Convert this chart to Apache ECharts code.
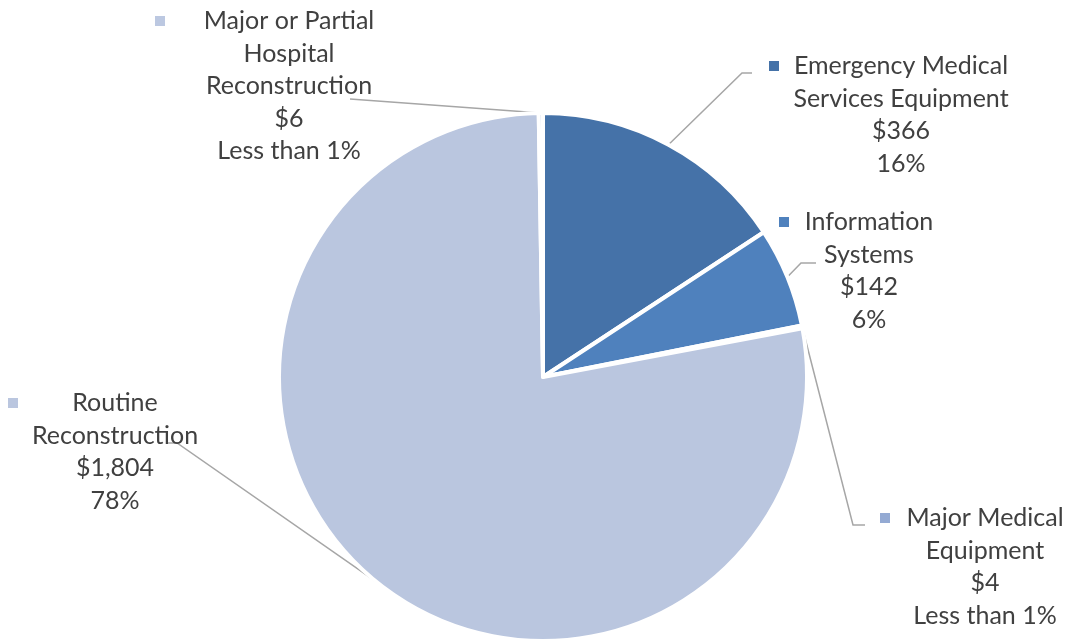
<!DOCTYPE html>
<html>
<head>
<meta charset="utf-8">
<script src="https://cdn.jsdelivr.net/npm/echarts@6/dist/echarts.min.js"></script>
<style>
  html, body { margin: 0; padding: 0; background: #ffffff; }
  #chart { width: 1068px; height: 641px; }
</style>
</head>
<body>
<div id="chart"></div>
<script>
// Spending by category (dollars, thousands)
const categories = [
  'Emergency Medical Services Equipment',
  'Information Systems',
  'Major Medical Equipment',
  'Routine Reconstruction',
  'Major or Partial Hospital Reconstruction'
];
const amounts = [366, 142, 4, 1804, 6];
const sliceColors = ['#4572A8', '#4F81BD', '#94AAD3', '#BAC6DF', '#BCC8E1'];

// How each category name wraps inside its label
const labelWrap = [
  ['Emergency Medical', 'Services Equipment'],
  ['Information', 'Systems'],
  ['Major Medical', 'Equipment'],
  ['Routine', 'Reconstruction'],
  ['Major or Partial', 'Hospital', 'Reconstruction']
];

// Label placement: key square left edge, centre of first text line,
// centre of the text column, and the leader line's bend/end points
const labelPlace = [
  { x: 769, y: 66,  textCenter: 901, line: [[742, 73], [752, 73]] },
  { x: 779, y: 222, textCenter: 869, line: [[801, 263], [816, 263]] },
  { x: 880, y: 518, textCenter: 985, line: [[853, 525], [865, 525]] },
  { x: 8,   y: 403, textCenter: 115, line: [[177, 443], [167, 443]] },
  { x: 155, y: 21,  textCenter: 289, line: [[350, 99], [350, 99]] }
];

const LINE_H = 32.5;
const KEY = 10;
const GAP = 14;
const TEXT_COLOR = '#404040';
const FONT = 'Lato';
const FONT_SIZE = 25;

const rich = {
  g: { width: GAP, align: 'left', lineHeight: LINE_H },
  p: { width: KEY + GAP, align: 'left', lineHeight: LINE_H }
};
categories.forEach((c, i) => {
  rich['s' + i] = { width: KEY, height: KEY, backgroundColor: sliceColors[i], align: 'left', lineHeight: LINE_H };
  rich['c' + i] = {
    width: 2 * (labelPlace[i].textCenter - labelPlace[i].x - KEY - GAP),
    align: 'center', lineHeight: LINE_H,
    color: TEXT_COLOR, fontFamily: FONT, fontSize: FONT_SIZE
  };
});

const chart = echarts.init(document.getElementById('chart'), null, { renderer: 'canvas' });

chart.setOption({
  animation: false,
  backgroundColor: '#ffffff',
  series: [{
    type: 'pie',
    center: [543, 377],
    radius: 264,
    startAngle: 90,
    clockwise: true,
    avoidLabelOverlap: false,
    emphasis: { disabled: true },
    data: categories.map((name, i) => ({
      name: name,
      value: amounts[i],
      itemStyle: { color: sliceColors[i] }
    })),
    itemStyle: { borderColor: '#ffffff', borderWidth: 4 },
    label: {
      show: true,
      position: 'outside',
      color: TEXT_COLOR,
      fontFamily: FONT,
      fontSize: FONT_SIZE,
      lineHeight: LINE_H,
      formatter: p => {
        const i = p.dataIndex;
        const pct = p.percent < 1 ? 'Less than 1%' : Math.round(p.percent) + '%';
        const lines = labelWrap[i].concat(['$' + p.value.toLocaleString('en-US'), pct]);
        return lines.map((t, k) =>
          (k === 0 ? '{s' + i + '| }{g| }' : '{p| }') + '{c' + i + '|' + t + '}'
        ).join('\n');
      },
      rich: rich
    },
    labelLine: {
      show: true,
      length: 10,
      length2: 10,
      lineStyle: { color: '#A6A6A6', width: 1.5 }
    },
    labelLayout: params => {
      const place = labelPlace[params.dataIndex];
      const pts = params.labelLinePoints;
      const edge = pts && pts[0] ? [pts[0][0], pts[0][1]] : place.line[0];
      return {
        x: place.x,
        y: place.y - LINE_H / 2,
        align: 'left',
        verticalAlign: 'top',
        labelLinePoints: [edge].concat(place.line)
      };
    }
  }]
});
</script>
</body>
</html>
